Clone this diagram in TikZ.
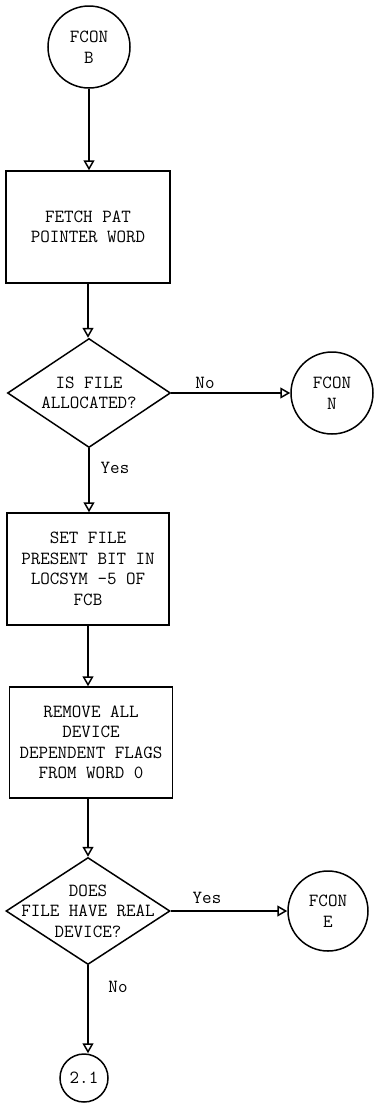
\documentclass[tikz,border=0pt]{standalone}
\usetikzlibrary{arrows.meta,shapes.geometric}
\begin{document}
\begin{tikzpicture}[x=1pt,y=-1pt,
  every node/.style={font=\ttfamily\fontsize{18.5}{20.5}\selectfont, inner sep=0pt},
  arr/.style={line width=1.5pt, -{Triangle[open, length=10pt, width=11pt]}},
  procbox/.style={draw, line width=1.5pt, align=center},
  term/.style={draw, circle, line width=1.5pt, align=center},
  dia/.style={draw, diamond, line width=1.5pt},
  txt/.style={align=center}
]
\useasboundingbox[fill=white] (0,0) rectangle (375,1106);

\node[term, minimum size=82pt] (c1) at (89,47) {FCON\\B};
\node[procbox, minimum width=164pt, minimum height=112pt] (b1) at (88,227) {FETCH PAT\\POINTER WORD};
\node[dia, minimum width=163pt, minimum height=109pt] (d1) at (89,393) {};
\node[txt] (t1) at (d1.center) {IS FILE\\ALLOCATED?};
\node[term, minimum size=82pt] (cN) at (332,393) {FCON\\N};
\node[procbox, minimum width=162pt, minimum height=112pt] (b2) at (88,569) {SET FILE\\PRESENT BIT IN\\LOCSYM -5 OF\\FCB};
\node[procbox, minimum width=163pt, minimum height=111pt] (b3) at (91,742.5) {REMOVE ALL\\DEVICE\\DEPENDENT FLAGS\\FROM WORD 0};
\node[dia, minimum width=164pt, minimum height=107pt] (d2) at (88,911) {};
\node[txt] (t2) at (d2.center) {DOES\\FILE HAVE REAL\\DEVICE?};
\node[term, minimum size=80pt] (cE) at (328,911) {FCON\\E};
\node[term, minimum size=48pt] (c21) at (84,1078) {2.1};

\node (lno1) at (205,383) {No};
\node (lyes1) at (115,468) {Yes};
\node (lyes2) at (207,898) {Yes};
\node (lno2) at (118,987) {No};

\draw[arr] (c1.south) -- (c1.south |- b1.north);
\draw[arr] (b1.south) -- (b1.south |- d1.north);
\draw[arr] (d1.east) -- (cN.west);
\draw[arr] (d1.south) -- (d1.south |- b2.north);
\draw[arr] (b2.south) -- (b2.south |- b3.north);
\draw[arr] (b2.south |- b3.south) -- (d2.north);
\draw[arr] (d2.east) -- (cE.west);
\draw[arr] (d2.south) -- (d2.south |- c21.north);
\end{tikzpicture}
\end{document}
